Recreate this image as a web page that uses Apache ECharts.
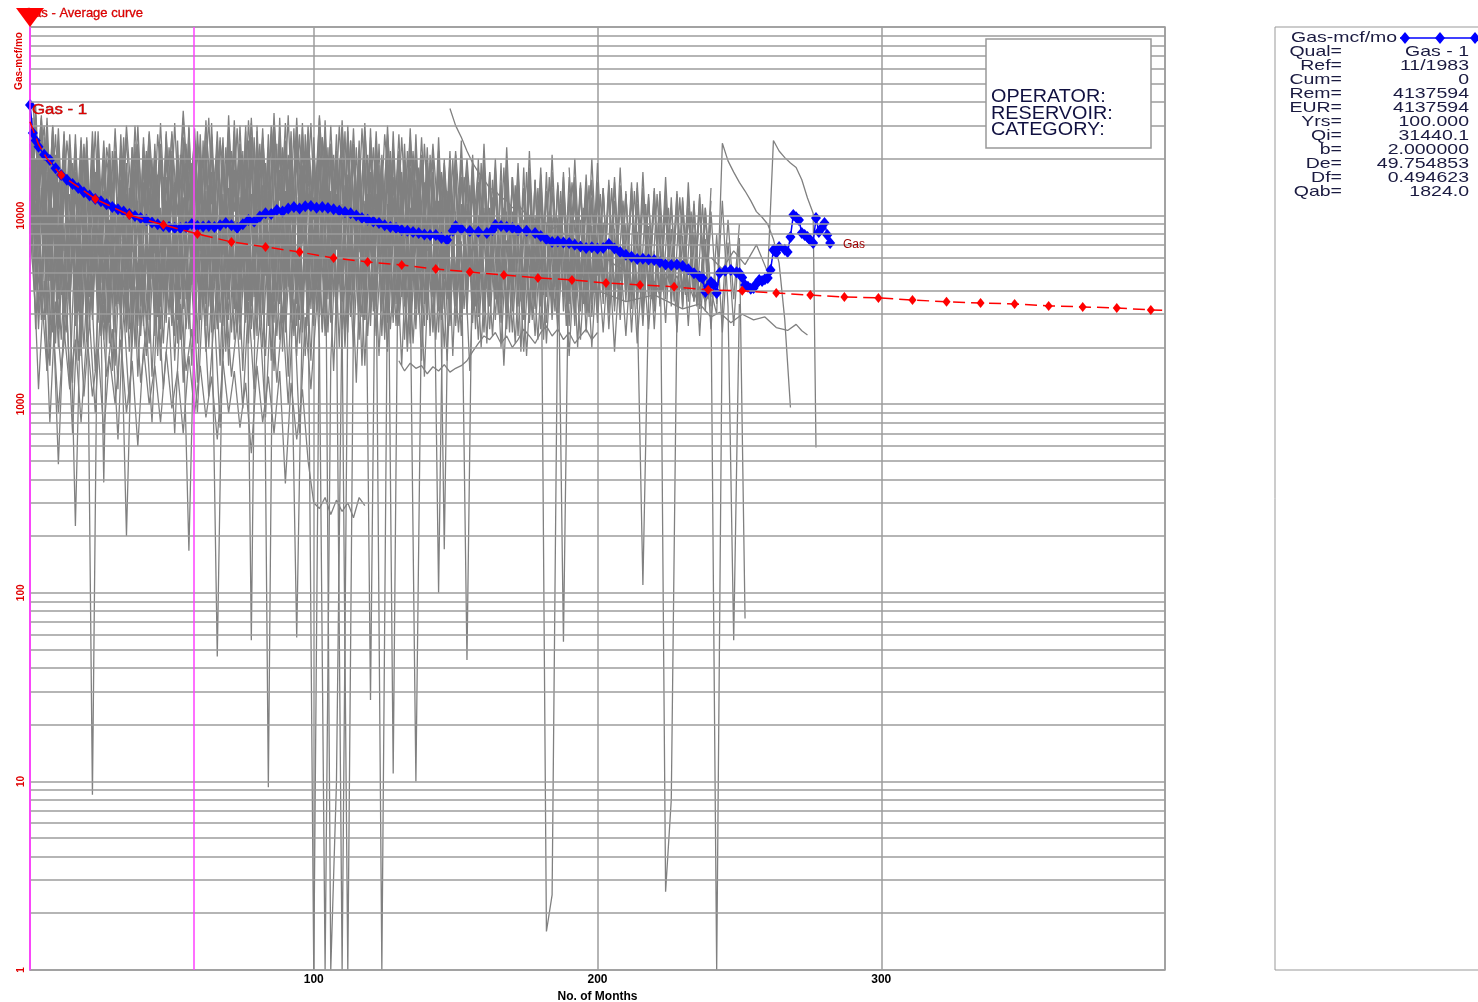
<!DOCTYPE html>
<html><head><meta charset="utf-8">
<script src="https://cdn.jsdelivr.net/npm/echarts@6/dist/echarts.min.js"></script>
<style>html,body{margin:0;padding:0;background:#fff}#c{width:1478px;height:1002px}</style>
</head><body><div id="c"></div>
<script>
// ---------------- DATA ----------------
const xTickLabels = ['100', '200', '300'];
const yTickLabels = ['1', '10', '100', '1000', '10000'];
const yGridLines = [1,2,3,4,5,6,7,8,9,10,20,30,40,50,60,70,80,90,100,200,300,400,500,600,700,800,900,
  1000,2000,3000,4000,5000,6000,7000,8000,9000,10000,20000,30000,40000,50000,60000,70000,80000,90000,100000];
const cutoffMonths = [0, 57.7];

// average curve "Gas - 1" [month, mcf/mo]
const avgGas = [[0,38600],[1,27400],[2,25000],[3,23200],[5,21000],[7,19700],[9,17800],[11,16400],[13,15500],[15,14700],
 [17,14000],[19,13300],[21,12800],[23,12250],[25,11900],[27,11500],[29,11100],[31,10800],[33,10500],[35,10200],
 [37,9950],[39,9700],[41,9480],[43,9200],[45,9000],[47,8810],[49,8700],[51,8600],[53,8590],[55,8700],[57,9020],
 [59,8800],[61,8750],[63,8810],[65,8700],[67,8900],[69,9140],[71,8900],[73,8590],[75,9000],[77,9480],[79,9300],
 [81,9900],[83,10300],[85,10200],[87,10700],[89,10500],[91,10900],[93,11100],[95,10900],[97,11200],[99,11240],
 [101,11000],[103,11100],[105,10970],[107,10800],[109,10600],[111,10450],[113,10300],[115,10000],[117,9710],
 [119,9500],[121,9300],[123,9140],[125,8900],[127,8700],[129,8590],[131,8400],[133,8300],[135,8190],[137,8090],
 [139,7950],[141,7890],[143,7890],[145,7600],[147,7430],[149,8300],[150,8810],[152,8500],[155,8280],[158,8200],
 [161,8090],[163,8400],[164,8920],[166,8800],[168,8700],[170,8590],[172,8400],[175,8300],[178,8090],[180,7800],
 [182,7500],[184,7250],[186,7300],[188,7200],[190,7160],[192,7000],[194,6850],[196,6730],[198,6800],[200,6700],
 [202,6730],[204,7070],[206,6700],[208,6410],[210,6200],[212,6050],[214,5890],[216,5900],[218,5850],[220,5820],
 [222,5650],[224,5500],[226,5470],[228,5500],[230,5410],[232,5200],[234,4950],[236,4750],[237,4670],[238,3940],
 [239,4200],[240,4440],[241,4300],[242,3890],[243,4960],[245,5100],[247,5150],[249,5000],[250,4960],[251,4700],
 [252,4290],[253,4200],[254,4100],[255,4130],[256,4350],[257,4550],[258,4500],[259,4600],[260,4670],[261,5150],
 [262,6570],[263,6360],[264,6820],[266,6600],[267,6410],[268,7710],[269,10070],[270,9800],[271,9480],[272,8090],
 [273,7900],[274,7710],[275,7400],[276,7160],[277,9710],[278,8190],[279,8600],[280,9140],[281,7890],[282,7160]];

// fitted forecast curve [month, mcf/mo]
const fitGas = [[0,31440],[3,23900],[6,20050],[11,16400],[23,12250],[35,10070],[47,8930],[59,8000],[71,7250],[83,6820],
 [95,6410],[107,5960],[119,5680],[131,5470],[143,5210],[155,5020],[167,4840],[179,4670],[191,4560],[203,4390],
 [215,4290],[227,4190],[239,4040],[251,3990],[263,3890],[275,3790],[287,3700],[299,3660],[311,3570],[323,3490],
 [335,3440],[347,3400],[359,3320],[371,3280],[383,3240],[395,3160],[399,3150]];
const fitMarkerMonths = [11,23,35,47,59,71,83,95,107,119,131,143,155,167,179,191,203,215,227,239,251,263,275,287,299,311,323,335,347,359,371,383,395];

// individual wells, one value every 2 months from the start month
const wellA = [38000,9000,32000,5000,28000,4500,26000,4000,24000,5000,
 22000,3500,25000,4200,20000,3800,23000,5200,19000,3600,24000,4000,21000,3300,26000,4800,20000,3900,25000,4500,
 22000,3700,27000,5000,21000,4200,28000,3800,23000,4600,26000,4100,22000,3500,29000,5200,24000,4300,27000,3900,
 23000,4700,28000,4000,22000,3600,26000,5000,21000,4200,25000,3800,20000,4500,24000,3500,19000,4800,23000,4000,
 18000,3700,22000,4600,17000,3900,21000,4300,16000,3600,20000,4400,15500,3800,19000,4100,15000,3500,18000,4200,
 14500,3700,17000,4000,14000,3400,16000,4300,13500,3600,15000,3900,13000,3500,14500,4100,12500,3400,14000,3800,
 12000,3600,13500,3300,11500,3900,13000,3500,11000,3700,12000];
const wellB = [9000,30000,4000,26000,3500,480,3000,22000,4200,20000,
 3300,21000,2800,18000,4000,22000,3100,17000,3700,20000,2900,19000,3500,23000,3000,18000,3800,21000,2700,17500,
 3400,22000,3000,19000,3900,24000,3200,20000,2800,23000,3600,21000,3100,25000,3500,20000,2900,58,3300,22000,
 3700,19000,3000,23000,3400,20000,2800,24000,3600,18000,3100,21000,3500,17500,2900,20000,3300,16500,3700,19000,
 3000,17000,100,15500,3400,18000,2900,16000,3500,14500,3100,17000,3600,15000,3000,16000,3400,13500,2900,15500,
 3300,13000,3700,14500,3100,12500,3500,14000,3000,12000,3400];
const wellC = [40000,12000,34000,7000,30000,5500,27000,4800,226,4200,
 26000,3800,21000,4500,24000,3600,20000,4100,23000,3400,19000,4300,22000,3700,27000,4000,21000,3500,29000,4400,
 23000,3900,26000,4700,20000,3600,25000,4200,30000,3800,24000,4500,21000,3700,27000,4100,23000,3500,26000,4600,
 1,3900,25000,4300,20000,3600,28000,4000,22000,3400,26000,4200,21000,3700,24000,4500,19000,3500,23000,4000,
 18000,3800,22000,170,17000,4100,21000,3600,16000,3900,19000,3500,15500,4000,18000,3700,14500,3300,17000,3800,14000];
const wellD = [18000,2500,14000,1500,11000,2000,9000,1200,8500,1800,
 9000,8.5,8000,2200,9500,1600,7500,2400,8800,1400,7000,2100,9200,1700,8000,2600,7200,1300,8500,2300,
 9000,1900,7600,2500,8700,1600,9400,2200,7800,2700,9800,2000,8200,1500,9000,2400,7600,1800,10000,2600,
 8400,2100,1,1700,9200,2500,7800,2000,8800,1600,9500,2300,8000,1900,9000,2600,7500,2100,8600,1700,
 9200,2400,7800,2000,8700,2700,7300,44,8400,2200,7800,2500,8600,2000,7400,2400,8200,1900,7000,2300,
 7900,2100,6800,2500,7500,1800,6600,2200,7200,2000,6500,2400,7000,1900,6300,2300,6800,2100,6000,2500,6500];
const wellE = [35000,6000,30000,4500,26000,3600,24000,3200,23000,4000,
 20000,3000,24000,385,19000,4200,22000,3500,18000,3100,23000,3700,20000,3300,25000,4000,21000,3200,24000,3800,
 20000,3400,26000,4100,22000,3600,27000,3300,21000,4400,28000,3900,23000,3500,26000,4200,22000,3700,29000,3400,
 24000,4000,21000,1,9.8,3600,25000,4300,20000,3500,24000,3900,19000,3400,23000,4200,20000,3700,22000,3300,
 19000,4000,17000,3600,20000,3300,16000,3900,18500,3500,15000,3800,17500,3400,14500,4100,16500,3600,14000,3300,
 16000,1.6,2.5,3800,15000,3500,13500,3900,14500,3400,12500,3700,14000,3300,12000,3800,13500,3500,110,3600,
 12000,3400,10500,3800,11500,3300,10000,3700,11000,3500,9500];
const wellF = [7000,33000,4000,28000,3200,24000,4400,22000,3000,25000,
 3600,20000,3100,23000,4100,19000,3400,200,2900,21000,3800,24000,3200,19000,4000,22000,3000,20000,3700,25000,
 3300,21000,3900,24000,3100,28000,4200,22000,3500,26000,3000,23000,4000,27000,3400,21000,3800,25000,3200,22000,
 3900,26000,3300,20000,3700,1,3100,23000,4000,19000,3400,24000,3800,20000,3000,22000,3600,18000,4100,21000,
 3300,17000,3700,20000,3100,16000,3600,18500,3200,15000,3500];
const wellG = [24000,5000,20000,3000,17000,2500,15000,3200,14000,2200,
 16000,2800,13000,3400,15500,2400,12500,3000,16000,2600,13500,3300,15000,2500,12000,3100,16500,2700,167,3200,
 14000,2600,17000,3400,13000,2800,15500,3000,12500,2500,16000,3300,13500,2700,17500,3100,14000,2600,15000,3400,
 12500,2900,16500,3200,13000,2500,1,3000,15500,2800,13000,3300,16000,2700,12500,3100,15000,2600,13500,3400,
 14500,2800,12000,3200,15000,2600,11500,3000,14000,2900,11000,3300,13500,2700,10500,3100,13000,2800,10000,3200,
 12500,2700,9800,3000,12000,2600,9500,3100,11500,2900,9000];
const wellH = [6000,34000,3800,29000,3300,25000,2900,23000,3500,21000,
 2800,24000,3200,20000,2700,22000,3400,19000,3000,23000,3600,20000,2900,24000,3300,21000,2800,26000,3500,22000,
 3100,25000,3700,46,3000,27000,3400,23000,2900,26000,3600,22000,3100,28000,3800,24000,3200,27000,3000,23000,
 3500,29000,3300,24000,2900,26000,3700,22000,3100,25000,27,21000,3400,25000,3000,20000,3600,23000,3200,19000,
 3800,22000,3100,18000,3500,21000,3000,17500,3400,20000,3100,17000,3600,19000,3000,16000,3300,18000,2900,15000,
 3500,17000,3200,14500,3700,16000,3000,14000,3400,15500,3100,13500,3600,15000,3200,13000,3500,14000,3000,12500,
 3400,13000,2.6,8,3100,12000,3500,11500,3200,11000,3300];
const wellI = [36000,14000,33000,8000,30000,6500,28000,6000,27000,5500,
 25000,5000,28000,5800,24000,4800,27000,5400,23000,4600,26000,5200,24000,4500,28000,5600,25000,4900,30000,5300,
 27000,4700,31000,5500,26000,5000,32000,5700,28000,56,30000,5100,27000,4600,33000,5800,28000,5000,31000,5400,
 26000,4800,32000,5600,27000,5000,30000,5300,25000,4700,29000,5200,1,4900,28000,5500,24000,4600,27000,5100,
 23000,4800,26000,5300,22000,4500,25000,5000,21000,4700,24000,5100,20000,4400,23000,4900,19000,4300,22000,4800,
 18000,4200,21000,4700,17000,4100,20000,4600,16500,4000,19000,4500,15500,3900,18000,4400,15000,3800,17000,4300,
 14000,3700,16000,4200,13500,3600,15000,4000,13000,3500,14000];
const wellJ = [8000,28000,4600,25000,4000,22000,3500,20000,4200,19000,
 3400,21000,3900,18000,3200,20000,4100,17000,3600,19500,3000,18000,3800,21000,3300,17500,4000,20000,3500,22000,
 3900,19000,3200,23000,3700,20000,3400,24000,3900,21000,3300,25000,9.3,20000,3600,23000,3100,21000,3800,24000,
 3400,20000,3900,22000,3200,19000,3700,23000,3300,20000,3800,21000,3100,18500,11,20000,3600,17000,3200,19000,
 3700,16500,3300,18000,3800,16000,3200,17000,3600,15000,3100,16500,3700,14500,3300,16000,3800,14000,3200,15500,
 3600,13500,3100,15000,3700,13000,3300,14500,3800,12500,3400,14000,3000,12000,3600,13500,3200,11500,3500,13000,
 3100,11000,3600,12500,3300,10500,3700,12000,3200,10000,3500,1,3300,9500,3600,9000];
const wellK = [30000,7500,27000,5000,24000,4200,22000,3800,21000,4500,
 19000,3600,22000,4300,18000,3300,21000,4000,17000,3700,20000,4200,17500,3500,21000,3900,18000,3400,22000,4100,
 19000,3600,23000,4300,20000,3700,24000,4000,21000,3500,25000,4200,21000,3800,23000,4400,20000,3600,24000,4000,
 21000,3700,25000,4300,22000,3500,24000,4100,20000,3800,23000,3600,19500,4200,22000,3700,18500,4000,10,3500,
 19000,4100,17000,3600,20000,3900,16000,3400,18500,4000,15500,3500,18000,3900,15000,3300,17000,3800,14500,3400,
 16500,3700,14000,3200,16000,3600,13500,3300,15000,3700,13000,3400,14500,3100,12500,3500,14000,3200,12000,3600,
 13500,3300,11500,3600,13000,3200,11000,3500,12500,3100,10500,3400,12000,3300,56,3400];
const wellL = [5000,20000,2800,17000,2400,15000,2200,13000,2600,14000,
 2300,12000,2700,13500,2100,11500,2500,13000,2200,12000,2600,14000,2300,11000,2700,13000,2100,12500,2500,11500,
 2800,13500,2400,12000,2600,14000,2200,12500,2700,13000,2300,14500,2600,12000,2200,13500,2700,12500,2400,14000,
 2600,12500,2300,13500,2700,11500,2400,13000,2200,12000,2600,13000,2300,11500,2700,12500,2200,11000,2500,12000,
 2800,11000,2400,12000,2600,10500,2300,11500,2700,10000,2400,11000,2800,9800,2500,10500,2300,9500,2700,10000,
 2500,9200,2800,9800,55,9000,2600,9500,2400,8800,2700,9200,2500,8500,2800,9000,2400,8200,2600,8800,
 2500,8000,2700,8500,2400,7800,2600,8200,2300,7500,2500,7900,2400,7200,2600,7600,73];
const wellM = [26000,9000,30000,11000,24000,8500,28000,10500,22000,9500,
 27000,10000,36000,12000,25000,9000,30000,11500,23000,8500,29000,10500,24000,9000,31000,11000,26000,9500,32000,12000,
 25000,9000,30000,11000,27000,9500,33000,12000,24000,8800,29000,10500,23000,8500,28000,10000,22000,8200,27000,9800,
 21000,8000,26000,9500,20000,7800,24000,9000,19000,7500,22000,8500,20000,7800,18000,7200];
const wellN = [37000,30000,26000,22000,19000,17000,15500,14000,13500,12500,12000,11000,11500,10500,10000,9500,
 9800,9000,8500,8800,8000,7800,7500,7000,6800,6500,6300,6000,5800,5500,5300,5000];
const wellO = [9000,3000,4000,1500,3000,900,2500,1200,2200,800,
 2400,1100,2000,700,1800,1000,2200,900,1700,600,2000,1000,1600,800,1900,950,1500,700,1800,900,
 1600,850,1400,650,1700,900,1500,750,1300,550,1600,800,1400,700,1500,380,1300,650,1200,500,
 300,280,320,260,310,270,300,250,320,290];
const wellP = [1700,1500,1650,1550,1600,1450,1580,1500,1620,1480,1550,1600,1700,1900,2100,2300,2200,2400,
 2100,2300,2000,2200,2500,2300,2100,2400,2600,2300,2500,2200,2400,2100,2300,2500,2200,2400];
const wellQ = [18000,5000,15000,4200,20000,4800,14000,3900,16000,4500,13000,3800,15000,4300,12000,3700,
 13500,4100,11000,3600,12500,3900,10000,3500,11000,3700];
const wellR = [30000,4000,25000,3000,21000,2600,19000,3300,17000,2500,
 18500,3100,16000,2700,19000,3400,15500,2600,18000,3200,15000,2800,19500,3500,16000,2700,18500,3300,17000,2600,
 20000,3400,16500,2900,19000,3600,17500,2700,21000,3300,18000,3000,22000,3500,17000,2800,20000,3400,18500,2900,
 21000,3300,17500,2700,20500,3500,16500,3000,19500,2800,17000,3200,20000,2900,16000,3400,18500,2800,15500,3100,17000];
const wellS = [12000,38000,8000,33000,7000,29000,6500,27000,7500,26000,
 6000,28000,7000,25000,6200,29000,7300,26000,6400,30000,7100,27000,6300,31000,7400,28000,6100,33000,7000,29000,
 6500,32000,7600,28000,6200,34000,7200,30000,6600,33000,7300,29000,6400,35000,7500,31000,6700,33000,7100,30000,
 6300,34000,7400,30000,6600,32000,7200,29000,6400,31000,7000,28000,6300,30000,6900,27000,6200,29000,6700,26000,6500];
const wellT = [33000,3000,26000,2200,21000,6500,2400,19000,3100,23000,
 2600,17000,8000,2000,22000,3400,18000,2500,24000,4200,1800,20000,2900,16000,7000,2300,21000,3600,19000,2100,
 25000,3300,17000,2700,23000,6000,2400,22000,3500,26000,2600,19000,3000,24000,1900,21000,7500,2800,27000,3200,
 18000,2500,23000,3700,20000,2200,25000,6500,2900,21000,3100,18500,2400,22000,3400,17000,2000,20000,5500,2600,19000];
const wellU = [16000,4500,2800,14000,2100,12000,3600,15000,1700,11000,
 2900,13500,2300,9000,1500,12500,3200,14000,2000,10500,2600,13000,1800,11500,3000,15000,2200,9500,1600,12000,
 3400,14500,2500,10000,1900,13000,2800,16000,2100,11000,3300,14000,1700,12500,2700,15500,2300,10500,1800,13500,
 3100,15000,2400,11000,2000,14500,2900,12000,1600,13000,3500,16000,2200,11500,2600,14000,1900,12500,3000,15000,
 2300,12000,2800,13500,1800,11000,3200,14500,2500,10500,2100,12500,3000,11000,2400,13000,1900,10000,2800,12000,
 2200,10500,3100,11500,2600,9500,2000,11000,2900,10000];
const wellV = [29000,7000,24000,4500,20000,3800,5000,18000,4200,21000,
 3700,17000,4400,20000,12000,3500,22000,4100,18500,3300,21000,4600,16500,3900,23000,9000,3600,19000,4300,24000,
 3800,20000,4500,26000,3400,22000,10000,4000,25000,3700,21000,4800,27000,3500,23000,4200,29000,3900,22000,11000,
 4400,26000,3600,21000,4700,28000,3800,23000,4100,19000,3500,24000,4300,20000,9500,3700,22000,4500,18000,3400,
 21000,4000,17000,3600,20000,4400,16000,8500,3300,19000,4100,15500,3700,18000,4300,14500,3500,17000,4000,14000,
 3800,16000,4200,13500,3600,15000,7500,3400,14500,3900,13000,3700,14000,4100,12000,3500,13500,3900,11500,3600,
 13000,4000,11000,3500,12500,3800,10500,3300,11500,3600];
const wellW = [40000,15000,30000,9000,27000,6000,25000,12000,5500,24000,
 7000,28000,5200,23000,14000,6500,26000,5800,30000,8000,22000,5400,27000,11000,6200,31000,7400,24000,5600,28000,
 8500,33000,6000,25000,13000,7000,29000,5800,32000,9000,24000,6300,30000,12000,7200,34000,6100,27000,8000,31000,
 5900,26000,14000,6800,30000,7600,25000,5700,29000,8200,23000,6400,27000,11500,6000,26000,7300,22000,5600,24000,7000];
const wellX = [14000,2500,10000,1600,9000,2200,8000,1300,9500,2000,
 7500,1500,8500,2400,7000,1200,9000,1900,7800,2300,8800,1400,7200,2100,9500,1700,8000,2500,7400,1300,
 9200,2000,7800,1600,10000,2400,8300,1500,9000,2200,7600,1800,10500,2300,8500,1400,9500,2100,8000,1700,
 11000,2400,8700,1500,9800,2000,7900,1300,10000,2300,8200,1800,9500,2500,7700,1600,9200,2100,8000,1400,
 9000,2200,7500,1700,8700,2400,7200,1500,8500,2000,7000,2300,8200,1600,6800,2100,7900,1800,6500,2200,7500];
const wellY = [7000,1200,4500,800,3500,1500,3000,700,4000,1100,
 2800,900,3600,1400,2500,650,3200,1000,4200,1300,2600,800,3800,1200,2900,700,3400,1500,2500,900,
 4000,1100,3000,750,3700,1400,2700,950,3500,1200,2800,850,3900,1300,3100,1000,3600,700,2900,1200,3300];
const wellStarts = {A:0,B:0,C:0,D:0,E:0,F:0,G:0,H:0,I:0,J:0,K:0,L:0,M:30,N:148,O:0,P:130,Q:190,R:0,S:0,
  T:1,U:1,V:1,W:1,X:1,Y:1};
// late wells [month, mcf/mo]
const tailWell1 = [[220,4500],[222,3800],[224,5000],[226,4200],[228,4800],[230,3900],[232,4400],[234,3600],[236,4200],
 [238,3500],[240,4000],[242,3000],[244,24200],[246,19500],[248,17000],[250,15000],[252,13500],[254,12000],[256,10500],
 [258,9800],[260,9000],[262,7500],[264,5600],[266,2800],[268,960]];
const tailWell2 = [[240,6000],[244,5200],[248,6500],[252,5500],[256,7000],[260,5000],[262,25000],[264,22000],[266,20300],
 [268,19000],[270,18000],[272,15500],[274,12400],[276,10300],[277,590]];
const tailWell3 = [[200,4000],[210,3500],[220,3800],[230,3200],[236,3400],[240,2900],[243,3070],[247,2700],[251,3000],
 [255,2800],[259,2900],[263,2550],[267,2460],[270,2650],[272,2450],[274,2330]];

const legendLabels = ['Qual=','Ref=','Cum=','Rem=','EUR=','Yrs=','Qi=','b=','De=','Df=','Qab='];
const legendValues = ['Gas - 1','11/1983','0','4137594','4137594','100.000','31440.1','2.000000','49.754853','0.494623','1824.0'];
const infoLines = ['OPERATOR:','RESERVOIR:','CATEGORY:'];

// ---------------- CHART ----------------
const wellArrays = {A:wellA,B:wellB,C:wellC,D:wellD,E:wellE,F:wellF,G:wellG,H:wellH,I:wellI,J:wellJ,K:wellK,L:wellL,
  M:wellM,N:wellN,O:wellO,P:wellP,Q:wellQ,R:wellR,S:wellS,T:wellT,U:wellU,V:wellV,W:wellW,X:wellX,Y:wellY};
const greyStyle = {color:'#808080', width:1.3};
const series = [];
series.push({
  type:'line', data:[], silent:true, z:1,
  markLine:{silent:true, symbol:'none', label:{show:false}, animation:false,
    lineStyle:{color:'#9c9c9c', width:1.5, type:'solid'},
    data: yGridLines.map(v => ({yAxis:v}))}
});
Object.keys(wellArrays).forEach(k => {
  const s = wellStarts[k];
  series.push({type:'line', name:'well'+k, data: wellArrays[k].map((v,i)=>[s+2*i, v]),
    showSymbol:false, symbol:'none', lineStyle:greyStyle, silent:true, z:2});
});
[tailWell1, tailWell2, tailWell3].forEach((d,i) => series.push({type:'line', name:'tail'+i, data:d,
  showSymbol:false, symbol:'none', lineStyle:greyStyle, silent:true, z:2}));
series.push({type:'line', data:[], silent:true, z:3,
  markLine:{silent:true, symbol:'none', label:{show:false}, animation:false,
    lineStyle:{color:'#ff40ff', width:1.5, type:'solid'},
    data: cutoffMonths.map(m => ({xAxis:m}))}});
series.push({type:'line', name:'Gas - 1', data:avgGas, symbol:'diamond', symbolSize:[10,12], showSymbol:true,
  itemStyle:{color:'#0000ff'}, lineStyle:{color:'#0000ff', width:1.5}, z:4, silent:true});
series.push({type:'line', name:'fit', data:fitGas, symbol:'diamond',
  symbolSize: v => fitMarkerMonths.indexOf(v[0]) >= 0 ? [8,10] : 0, showSymbol:true,
  itemStyle:{color:'#ff0000'}, lineStyle:{color:'#ff0000', width:1.5, type:[12,6]}, z:5, silent:true});

const graphic = [
  {type:'polygon', shape:{points:[[16,8],[44,8],[30,27]]}, style:{fill:'#ff0000'}, z:100},
  {type:'text', x:24, y:13, style:{text:'Gas - Average curve', fill:'#e00000', stroke:'#b00000', lineWidth:0.3, font:'13px "Liberation Sans"', verticalAlign:'middle'}, z:99},
  {type:'text', x:19, y:61, rotation:Math.PI/2, style:{text:'Gas-mcf/mo', fill:'#e00000', font:'bold 10px "Liberation Sans"', align:'center', verticalAlign:'middle'}, z:100},
  {type:'text', x:32, y:110, scaleX:1.2, style:{text:'Gas - 1', fill:'#e00000', stroke:'#700000', lineWidth:0.4, font:'14px "Liberation Sans"', verticalAlign:'middle'}, z:100},
  {type:'text', x:843, y:245, style:{text:'Gas', fill:'#a00000', font:'12px "Liberation Sans"', verticalAlign:'middle'}, z:100},
  {type:'rect', shape:{x:986, y:39, width:165, height:109}, style:{fill:'#fff', stroke:'#999', lineWidth:1.5}, z:100},
  {type:'rect', shape:{x:1275, y:27, width:240, height:943}, style:{fill:'#fff', stroke:'#999', lineWidth:1}, z:100},
  {type:'text', x:1291, y:38, scaleX:1.3, style:{text:'Gas-mcf/mo', fill:'#1a1a40', font:'15px "Liberation Sans"', verticalAlign:'middle'}, z:101},
  {type:'line', shape:{x1:1400, y1:38, x2:1478, y2:38}, style:{stroke:'#0000ff', lineWidth:1.5}, z:101}
];
[1405,1440,1475].forEach(x => graphic.push({type:'polygon', shape:{points:[[x-5,38],[x,32],[x+5,38],[x,44]]}, style:{fill:'#0000ff'}, z:102}));
infoLines.forEach((t,i) => graphic.push({type:'text', x:991, y:97+i*16.7, scaleX:1.1,
  style:{text:t, fill:'#101040', font:'18px "Liberation Sans"', verticalAlign:'middle'}, z:101}));
legendLabels.forEach((t,i) => {
  graphic.push({type:'text', x:1342, y:52+i*14, scaleX:1.3, style:{text:t, fill:'#1a1a40', font:'15px "Liberation Sans"', align:'right', verticalAlign:'middle'}, z:101});
  graphic.push({type:'text', x:1469, y:52+i*14, scaleX:1.3, style:{text:legendValues[i], fill:'#1a1a40', font:'15px "Liberation Sans"', align:'right', verticalAlign:'middle'}, z:101});
});

const chart = echarts.init(document.getElementById('c'));
chart.setOption({
  animation:false,
  backgroundColor:'#fff',
  grid:{left:30, top:27, right:313, bottom:32, show:true, borderColor:'#9c9c9c', borderWidth:1.5,
    containLabel:false, outerBoundsMode:'none'},
  xAxis:{type:'value', min:0, max:400, interval:100,
    axisLine:{show:false}, axisTick:{show:false},
    splitLine:{show:true, lineStyle:{color:'#9c9c9c', width:1.5}},
    axisLabel:{margin:4, color:'#000', fontWeight:'bold', fontSize:12, fontFamily:'Liberation Sans',
      formatter: v => xTickLabels.indexOf(String(v)) >= 0 ? String(v) : ''},
    name:'No. of Months', nameLocation:'middle', nameGap:17,
    nameTextStyle:{color:'#000', fontWeight:'bold', fontSize:12, fontFamily:'Liberation Sans'}},
  yAxis:{type:'log', logBase:10, min:1, max:100000,
    axisLine:{show:true, lineStyle:{color:'#ff40ff', width:1.5}}, axisTick:{show:false},
    splitLine:{show:false},
    axisLabel:{rotate:90, margin:4, color:'#e00000', fontWeight:'bold', fontSize:10, fontFamily:'Liberation Sans',
      formatter: v => yTickLabels.indexOf(String(v)) >= 0 ? String(v) : ''}},
  series: series,
  graphic: graphic
});
</script></body></html>
